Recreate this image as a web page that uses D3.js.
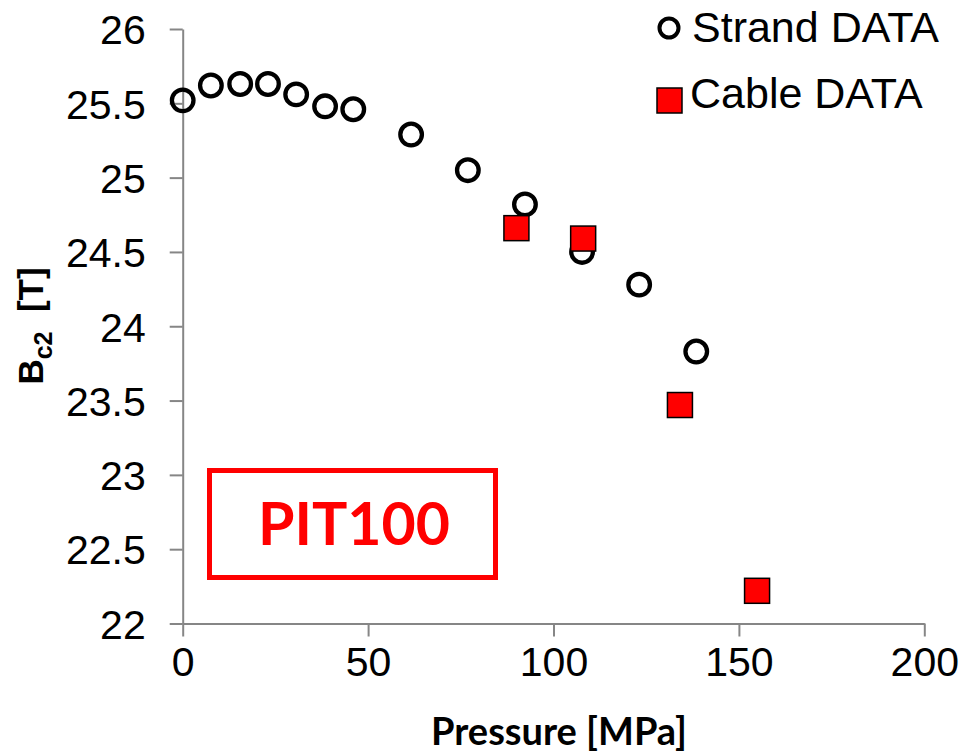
<!DOCTYPE html>
<html>
<head>
<meta charset="utf-8">
<script src="https://cdn.jsdelivr.net/npm/d3@7"></script>
<style>
  body { margin: 0; background: #fff; }
  text { font-family: "Liberation Sans", Arial, sans-serif; }
</style>
</head>
<body>
<script>
var strandP  = [0, 7.6, 15.5, 23.0, 30.6, 38.4, 46.0, 61.6, 76.9, 92.3, 107.7, 123.1, 138.5];
var strandB  = [25.52, 25.62, 25.63, 25.63, 25.56, 25.48, 25.46, 25.29, 25.05, 24.82, 24.50, 24.28, 23.83];
var cableP   = [90.0, 108.0, 134.1, 154.9];
var cableB   = [24.66, 24.59, 23.47, 22.22];
var xTicks   = [0, 50, 100, 150, 200];
var yTicks   = [22, 22.5, 23, 23.5, 24, 24.5, 25, 25.5, 26];

var width = 963, height = 753;

var svg = d3.select("body")
  .append("svg")
    .attr("width", width)
    .attr("height", height);

var x = d3.scaleLinear().domain([0, 200]).range([182.7, 924.3]);
var y = d3.scaleLinear().domain([22, 26]).range([623.5, 29]);

// axes
var xAxis = svg.append("g")
    .attr("transform", "translate(0," + y(22) + ")")
    .call(d3.axisBottom(x).tickValues(xTicks).tickSize(13).tickPadding(10).tickSizeOuter(0));
var yAxis = svg.append("g")
    .attr("transform", "translate(" + x(0) + ",0)")
    .call(d3.axisLeft(y).tickValues(yTicks).tickSize(13).tickPadding(24).tickSizeOuter(0)
      .tickFormat(function(d) { return String(d); }));

[xAxis, yAxis].forEach(function(a) {
  a.select(".domain").attr("stroke", "#868686").attr("stroke-width", 2);
  a.selectAll(".tick line").attr("stroke", "#868686").attr("stroke-width", 2);
  a.selectAll(".tick text")
    .attr("fill", "#000")
    .style("font-family", "'Liberation Sans', Arial, sans-serif")
    .style("font-size", "41px");
});
yAxis.selectAll(".tick text").attr("dy", "0.36em");
xAxis.selectAll(".tick text").attr("dy", "0.71em");

// axis titles
svg.append("text")
    .attr("x", 559)
    .attr("y", 745)
    .attr("text-anchor", "middle")
    .style("font-family", "Lato, 'Open Sans', sans-serif")
    .style("font-weight", "bold")
    .style("font-size", "38px")
    .text("Pressure [MPa]");

var yt = svg.append("text")
    .attr("transform", "translate(43,326) rotate(-90)")
    .attr("text-anchor", "middle")
    .style("font-weight", "bold")
    .style("font-size", "35px");
yt.append("tspan").text("B");
yt.append("tspan").attr("dy", 9).style("font-size", "25px").text("c2");
yt.append("tspan").attr("dy", -9).text("\u00a0 [T]");

// PIT100 box
svg.append("rect")
    .attr("x", 209.5).attr("y", 470.5)
    .attr("width", 286).attr("height", 107)
    .attr("fill", "none")
    .attr("stroke", "#ff0000")
    .attr("stroke-width", 5);
svg.append("text")
    .attr("x", 354).attr("y", 545)
    .attr("text-anchor", "middle")
    .attr("fill", "#ff0000")
    .style("font-family", "Lato, 'Open Sans', sans-serif")
    .style("font-weight", "bold")
    .style("font-size", "59px")
    .text("PIT100");

// data
var strand = strandP.map(function(p, i) { return {p: p, b: strandB[i]}; });
var cable = cableP.map(function(p, i) { return {p: p, b: cableB[i]}; });

svg.selectAll("circle.strand")
    .data(strand)
  .enter().append("circle")
    .attr("class", "strand")
    .attr("cx", function(d) { return x(d.p); })
    .attr("cy", function(d) { return y(d.b); })
    .attr("r", 10.8)
    .attr("fill", "none")
    .attr("stroke", "#000")
    .attr("stroke-width", 4.3);

var s = 25;
svg.selectAll("rect.cable")
    .data(cable)
  .enter().append("rect")
    .attr("class", "cable")
    .attr("x", function(d) { return x(d.p) - s / 2; })
    .attr("y", function(d) { return y(d.b) - s / 2; })
    .attr("width", s)
    .attr("height", s)
    .attr("fill", "#ff0000")
    .attr("stroke", "#000")
    .attr("stroke-width", 1.5);

// legend
svg.append("circle")
    .attr("cx", 669).attr("cy", 28).attr("r", 9.5)
    .attr("fill", "none").attr("stroke", "#000").attr("stroke-width", 4);
svg.append("text")
    .attr("x", 692).attr("y", 42)
    .style("font-size", "43px")
    .text("Strand DATA");
svg.append("rect")
    .attr("x", 657).attr("y", 88).attr("width", s).attr("height", s)
    .attr("fill", "#ff0000").attr("stroke", "#000").attr("stroke-width", 1.5);
svg.append("text")
    .attr("x", 690).attr("y", 108)
    .style("font-size", "43px")
    .text("Cable DATA");
</script>
</body>
</html>
